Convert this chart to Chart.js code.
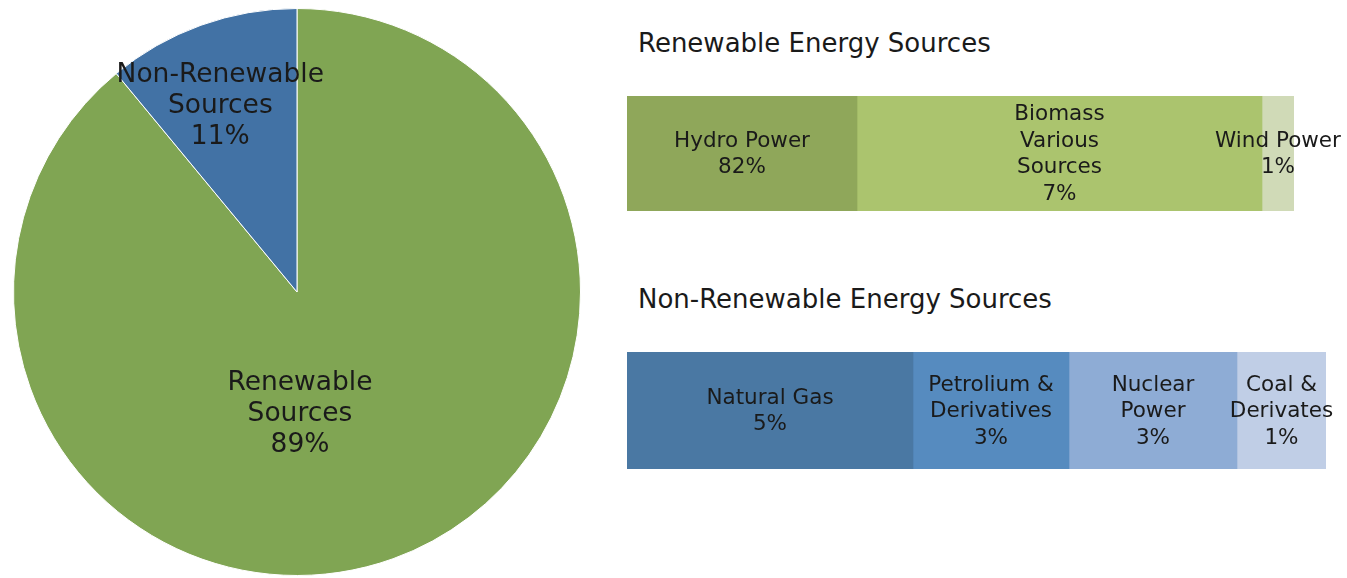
<!DOCTYPE html>
<html>
<head>
<meta charset="utf-8">
<script src="https://cdn.jsdelivr.net/npm/chart.js@4/dist/chart.umd.min.js"></script>
<style>
  body { margin: 0; background: #fff; width: 1347px; height: 578px; overflow: hidden; position: relative; }
  canvas { position: absolute; }
  .title { position: absolute; left: 638px; font-family: "DejaVu Sans", sans-serif; font-size: 26px; color: #1a1a1a; white-space: nowrap; }
</style>
</head>
<body>
<canvas id="pieChart" width="568" height="568" style="left:13px; top:8px;"></canvas>
<div class="title" style="top:28px;">Renewable Energy Sources</div>
<canvas id="renewChart" style="left:600px; top:86px;"></canvas>
<div class="title" style="top:284px;">Non-Renewable Energy Sources</div>
<canvas id="nonRenewChart" style="left:600px; top:342px;"></canvas>
<script>
// pie
const pieLabels = [['Renewable', 'Sources', '89%'], ['Non-Renewable', 'Sources', '11%']];
const pieValues = [89, 11];
const pieColors = ['#80a553', '#4272a5'];

// renewable bar (segment widths, labels as printed)
const renewLabels = [['Hydro Power', '82%'], ['Biomass', 'Various', 'Sources', '7%'], ['Wind Power', '1%']];
const renewValues = [230, 405, 32];
const renewColors = ['#8fa75a', '#abc46e', '#d0dab7'];

// non-renewable bar
const nonRenewLabels = [['Natural Gas', '5%'], ['Petrolium &', 'Derivatives', '3%'], ['Nuclear', 'Power', '3%'], ['Coal &', 'Derivates', '1%']];
const nonRenewValues = [286, 156, 168, 89];
const nonRenewColors = ['#4a78a3', '#568bbf', '#8eacd5', '#c0cee6'];

const FONT = '"DejaVu Sans", sans-serif';
const TEXT = '#1a1a1a';

function drawLines(ctx, lines, x, y, size, lh) {
    ctx.save();
    ctx.font = size + 'px ' + FONT;
    ctx.fillStyle = TEXT;
    ctx.textAlign = 'center';
    ctx.textBaseline = 'middle';
    const top = y - (lines.length - 1) * lh / 2;
    lines.forEach((t, i) => ctx.fillText(t, x, top + i * lh));
    ctx.restore();
}

// 파이 라벨
const pieLabelPlugin = {
    id: 'pieLabels',
    afterDatasetsDraw(chart, args, opts) {
        const meta = chart.getDatasetMeta(0);
        meta.data.forEach((arc, i) => {
            const p = arc.getProps(['x', 'y', 'startAngle', 'endAngle', 'outerRadius'], true);
            const ang = (p.startAngle + p.endAngle) / 2 + opts.turn[i] * Math.PI / 180;
            const r = p.outerRadius * opts.radius[i];
            drawLines(chart.ctx, pieLabels[i], p.x + Math.cos(ang) * r, p.y + Math.sin(ang) * r, 26.5, 31);
        });
    }
};

// 막대 라벨
const barLabelPlugin = {
    id: 'barLabels',
    afterDatasetsDraw(chart, args, opts) {
        chart.data.datasets.forEach((ds, i) => {
            const bar = chart.getDatasetMeta(i).data[0];
            const p = bar.getProps(['x', 'y', 'base'], true);
            drawLines(chart.ctx, opts.lines[i], (p.x + p.base) / 2, p.y + 1, 21.5, 26.5);
        });
    }
};

new Chart(document.getElementById('pieChart'), {
    type: 'pie',
    data: {
        labels: pieLabels.map(l => l[0]),
        datasets: [{
            data: pieValues,
            backgroundColor: pieColors,
            borderColor: '#ffffff',
            borderWidth: 1
        }]
    },
    options: {
        responsive: false,
        animation: false,
        layout: { padding: 0 },
        plugins: {
            legend: { display: false },
            tooltip: { enabled: false },
            pieLabels: { radius: [0.43, 0.71], turn: [18.4, -2.6] }
        }
    },
    plugins: [pieLabelPlugin]
});

function stackedBar(id, labels, values, colors, padRight, height) {
    const canvas = document.getElementById(id);
    canvas.width = 747;
    canvas.height = height;
    return new Chart(canvas, {
        type: 'bar',
        data: {
            labels: [''],
            datasets: values.map((v, i) => ({
                label: labels[i].join(' '),
                data: [v],
                backgroundColor: colors[i],
                borderWidth: 0,
                categoryPercentage: 1,
                barPercentage: 1
            }))
        },
        options: {
            indexAxis: 'y',
            responsive: false,
            animation: false,
            layout: { padding: { left: 27, right: padRight, top: 10, bottom: 10 } },
            scales: {
                x: { stacked: true, display: false, min: 0, max: values.reduce((a, b) => a + b, 0) },
                y: { stacked: true, display: false }
            },
            plugins: {
                legend: { display: false },
                tooltip: { enabled: false },
                barLabels: { lines: labels }
            }
        },
        plugins: [barLabelPlugin]
    });
}

stackedBar('renewChart', renewLabels, renewValues, renewColors, 747 - 27 - 667, 135);
stackedBar('nonRenewChart', nonRenewLabels, nonRenewValues, nonRenewColors, 747 - 27 - 699, 137);
</script>
</body>
</html>
